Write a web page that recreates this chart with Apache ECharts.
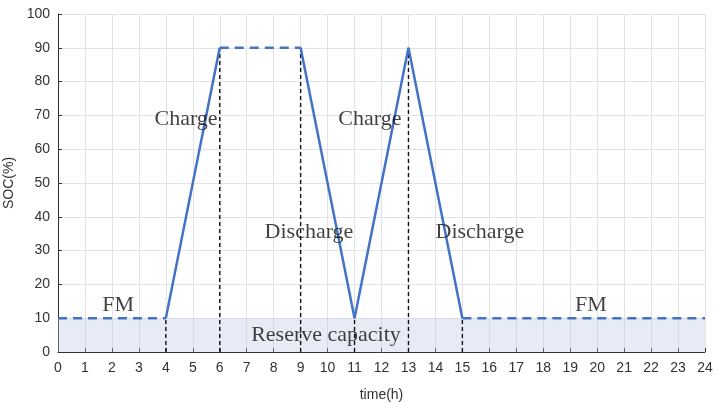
<!DOCTYPE html>
<html><head><meta charset="utf-8">
<script src="https://cdn.jsdelivr.net/npm/echarts@6/dist/echarts.min.js"></script>
<style>html,body{margin:0;padding:0;background:#fff}#c{width:720px;height:403px}</style>
</head><body><div id="c"></div>
<script>
var xTicks = [0,1,2,3,4,5,6,7,8,9,10,11,12,13,14,15,16,17,18,19,20,21,22,23,24];
var solidSegHours = [[4,6],[9,11],[11,13],[13,15]];
var solidSegSOC = [[10,90],[90,10],[10,90],[90,10]];
var dashSegHours = [[0,4],[6,9],[15,24]];
var dashSegSOC = [[10,10],[90,90],[10,10]];
var eventHours = [4,6,9,11,13,15];
var eventSOC = [10,90,90,10,90,10];
var reserveHours = [0,24];
var reserveSOC = [10,10];
var labelTexts = ['Charge','Charge','Discharge','Discharge','FM','FM','Reserve capacity'];
var labelX = [4.75,11.57,9.31,15.65,2.23,19.77,9.94];
var labelY = [69,69,35.5,35.5,13.9,13.9,5];

var blue = '#4472C4';
var series = [];
series.push({type:'line', data: reserveHours.map(function(h,i){return [h,reserveSOC[i]];}), symbol:'none',
  lineStyle:{width:0}, areaStyle:{color:'rgba(185,198,228,0.5)'}, z:1, silent:true});
solidSegHours.forEach(function(h,i){
  series.push({type:'line', data:[[h[0],solidSegSOC[i][0]],[h[1],solidSegSOC[i][1]]], symbol:'none',
    lineStyle:{color:blue,width:2.5}, z:3});
});
dashSegHours.forEach(function(h,i){
  series.push({type:'line', data:[[h[0],dashSegSOC[i][0]],[h[1],dashSegSOC[i][1]]], symbol:'none',
    lineStyle:{color:blue,width:2.5,type:[9,6]}, z:3});
});
eventHours.forEach(function(h,i){
  series.push({type:'line', data:[[h,0],[h,eventSOC[i]]], symbol:'none',
    lineStyle:{color:'#111',width:1.4,type:[4,3]}, z:2});
});
series.push({type:'scatter', symbolSize:0, z:5,
  data: labelTexts.map(function(t,i){return {value:[labelX[i],labelY[i]], name:t};}),
  label:{show:true, position:'inside', formatter:function(p){return p.name;},
    fontFamily:'Liberation Serif', fontSize:22, color:'#111'}});

var chart = echarts.init(document.getElementById('c'), null, {renderer:'canvas'});
chart.setOption({
  animation:false,
  grid:{left:58,right:15,top:14,bottom:51, containLabel:false, outerBoundsMode:'none'},
  xAxis:{type:'value', min:0, max:24, interval:1, name:'time(h)', nameLocation:'middle', nameGap:36,
    nameTextStyle:{fontFamily:'Liberation Sans', fontSize:14, color:'#333'},
    axisLine:{lineStyle:{color:'#333'}}, axisTick:{inside:true, length:4, lineStyle:{color:'#333'}},
    axisLabel:{fontFamily:'Liberation Sans', fontSize:14, color:'#333', margin:9},
    splitLine:{show:true, lineStyle:{color:'#e3e3e3'}}},
  yAxis:{type:'value', min:0, max:100, interval:10, name:'SOC(%)', nameLocation:'middle', nameGap:36,
    nameTextStyle:{fontFamily:'Liberation Sans', fontSize:14, color:'#333'},
    axisLine:{show:true, lineStyle:{color:'#333'}}, axisTick:{show:true, inside:true, length:4, lineStyle:{color:'#333'}},
    axisLabel:{fontFamily:'Liberation Sans', fontSize:14, color:'#333', margin:8},
    splitLine:{show:true, lineStyle:{color:'#e3e3e3'}}},
  series: series
});
</script></body></html>
